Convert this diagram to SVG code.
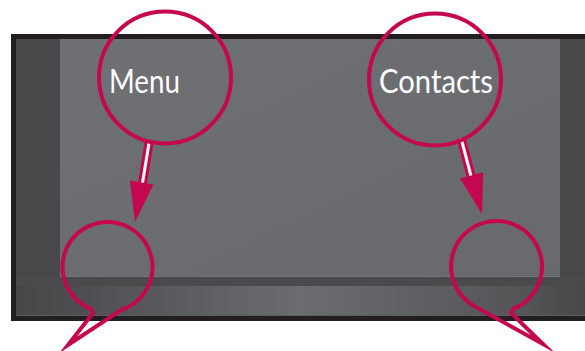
<svg xmlns="http://www.w3.org/2000/svg" width="585" height="351" viewBox="0 0 585 351">
<defs>
<linearGradient id="scr" x1="0" y1="0" x2="1" y2="1">
<stop offset="0" stop-color="#6f7073"/>
<stop offset="1" stop-color="#68696c"/>
</linearGradient>
<linearGradient id="band" x1="16" y1="0" x2="585" y2="0" gradientUnits="userSpaceOnUse">
<stop offset="0" stop-color="#47474a"/>
<stop offset="0.08" stop-color="#4c4c4f"/>
<stop offset="0.5" stop-color="#6b6c6f"/>
<stop offset="0.9" stop-color="#545457"/>
<stop offset="1" stop-color="#47474a"/>
</linearGradient>
<style>
.ring{fill:none;stroke:#c4074f;stroke-width:4;stroke-linejoin:miter;stroke-miterlimit:12}
.shaftO{stroke:#c4074f;stroke-width:9;stroke-linecap:butt}
.shaftI{stroke:#ffffff;stroke-width:3;stroke-linecap:butt}
.head{fill:#c4074f}
.lbl{font-family:Lato,"Open Sans","Liberation Sans",sans-serif;font-size:33px;fill:#ffffff}
</style>
</defs>
<g id="device">
<rect x="11" y="34" width="580" height="287" fill="#231f20"/>
<rect x="16" y="39" width="575" height="277" fill="#48484a"/>
<rect x="60" y="39" width="500" height="238" fill="url(#scr)"/>
<rect x="60" y="276" width="500" height="1" fill="#737477"/>
<rect x="16" y="277" width="569" height="9" fill="#4a4a4c"/>
<rect x="16" y="286" width="569" height="30" fill="url(#band)"/>
<rect x="16" y="315" width="569" height="1" fill="#5c5c5f"/>
</g>
<g id="connectors">
<line class="shaftO" x1="149.5" y1="140" x2="142.5" y2="183"/>
<line class="shaftI" x1="149.5" y1="140" x2="142.5" y2="183"/>
<polygon class="head" points="135,222 153.5,184.6 129.9,180.6"/>
<line class="shaftO" x1="461" y1="138" x2="471" y2="176"/>
<line class="shaftI" x1="461" y1="138" x2="471" y2="176"/>
<polygon class="head" points="482,214 483.2,172.3 460,178.5"/>
</g>
<g id="menu">
<circle class="ring" cx="165" cy="77.5" r="66"/>
<text class="lbl" x="109" y="93" textLength="71" lengthAdjust="spacingAndGlyphs">Menu</text>
</g>
<g id="contacts">
<circle class="ring" cx="435" cy="79.5" r="66"/>
<text class="lbl" x="379" y="93" textLength="114" lengthAdjust="spacingAndGlyphs">Contacts</text>
</g>
<g id="bubble-left">
<path class="ring" d="M121.4,309.8 A45 45 0 1 0 90.6,308.7 L93,313 L68,345 Z"/>
</g>
<g id="bubble-right">
<path class="ring" d="M477.3,307.7 A45.5 45.5 0 1 1 513.5,308.7 L511,313 L543,344 Z"/>
</g>
</svg>
